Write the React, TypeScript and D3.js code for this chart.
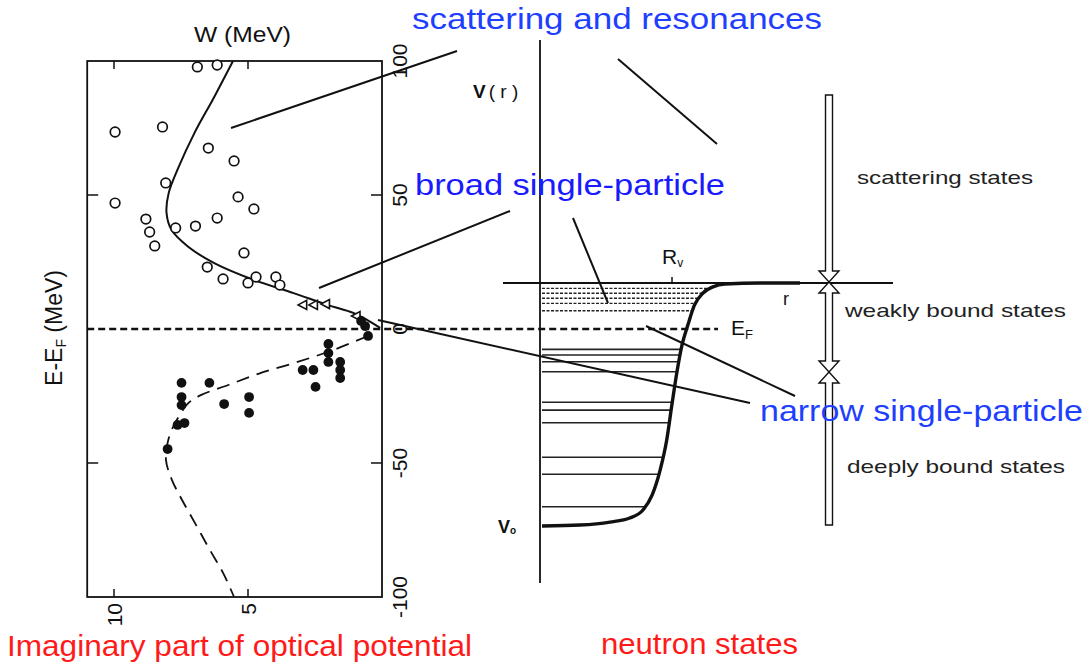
import React from 'react';
import * as d3 from 'd3';

// ---------- Left panel: imaginary part of optical potential ----------
// [W (MeV), E-EF (MeV)]
const openCircles: [number, number][] = [
  [6.89, 97.8], [6.15, 98.5], [9.96, 73.5], [8.19, 75.4], [6.48, 67.5], [5.52, 62.7],
  [8.07, 54.5], [9.96, 47.0], [5.37, 49.3], [4.78, 44.8], [8.81, 41.0], [6.15, 41.4],
  [8.67, 36.2], [7.7, 37.7], [6.96, 38.4], [8.48, 31.0], [5.15, 28.4], [6.52, 23.1],
  [5.93, 18.7], [5.0, 17.2], [4.7, 19.4], [3.96, 19.4], [3.81, 16.4],
];
const openTriangles: [number, number][] = [
  [2.96, 9.0], [2.56, 9.0], [2.11, 9.3], [0.97, 4.85],
];
const filledDots: [number, number][] = [
  [2.0, -5.6], [2.0, -9.0], [2.0, -12.3], [1.56, -12.3], [1.56, -15.3], [1.56, -18.3],
  [2.96, -15.3], [2.56, -15.3], [2.48, -21.6], [0.52, -2.6], [0.78, 3.0], [0.63, 1.1],
  [7.48, -20.1], [7.48, -25.4], [7.48, -28.4], [6.44, -20.1], [5.89, -28.0],
  [4.96, -25.4], [4.96, -31.3], [7.63, -35.8], [7.37, -35.1], [8.0, -44.8],
];
const solidCurve: [number, number][] = [
  [5.56, 100], [6.26, 86.6], [7.0, 73.1], [7.59, 60.4], [7.96, 50.7], [8.04, 43.3],
  [7.85, 36.9], [7.22, 30.6], [6.26, 24.6], [4.78, 18.3], [3.3, 13.4], [2.04, 9.0],
  [1.07, 6.0], [0.56, 3.4], [0.07, 0.4],
];
const dashedCurve: [number, number][] = [
  [0.52, -2.6], [1.81, -7.8], [3.15, -12.3], [4.52, -16.4], [5.74, -20.9], [6.74, -24.6],
  [7.22, -27.6], [7.59, -32.8], [7.85, -37.7], [8.0, -42.5], [8.06, -48.9], [7.84, -56.3],
  [7.46, -63.8], [6.94, -73.1], [6.42, -82.5], [5.93, -91.0], [5.52, -100],
];
const wTicks = [10, 5];
const wTickLabels = ['10', '5'];
const eTicks = [100, 50, 0, -50, -100];
const eTickLabels = ['100', '50', '0', '-50', '-100'];
const eInnerTicks = [50, -50];

// ---------- Right panel: neutron states in the potential well ----------
// [r (units of Rv), V (% of depth)]
const potential: [number, number][] = [
  [0.015, -100], [0.303, -99.6], [0.53, -98.4], [0.68, -96.7], [0.78, -93.4], [0.85, -87.2],
  [0.91, -77], [0.96, -64.6], [1.0, -49.8], [1.04, -35.8], [1.076, -25.5], [1.12, -17.3],
  [1.17, -9.1], [1.235, -4.1], [1.31, -1.6], [1.4, -0.4], [1.67, 0], [1.97, 0],
];
const broadLevels = [-2.2, -4.2, -6.3, -8.4, -11.4];
const boundLevels = [-27.3, -29.6, -32.4, -36.5, -49.1, -52.3, -57.5, -71.7, -78.7, -92.1];

const FONT = 'Liberation Sans, Arial, Helvetica, sans-serif';

function arrowPath(cx: number, y0: number, y1: number, headTop: boolean, headBot: boolean) {
  const hw = 3.5, HW = 10, HL = 11;
  const p = d3.path();
  if (headTop) {
    p.moveTo(cx, y0);
    p.lineTo(cx + HW, y0 + HL);
    p.lineTo(cx + hw, y0 + HL);
  } else {
    p.moveTo(cx - hw, y0);
    p.lineTo(cx + hw, y0);
  }
  if (headBot) {
    p.lineTo(cx + hw, y1 - HL);
    p.lineTo(cx + HW, y1 - HL);
    p.lineTo(cx, y1);
    p.lineTo(cx - HW, y1 - HL);
    p.lineTo(cx - hw, y1 - HL);
  } else {
    p.lineTo(cx + hw, y1);
    p.lineTo(cx - hw, y1);
  }
  if (headTop) {
    p.lineTo(cx - hw, y0 + HL);
    p.lineTo(cx - HW, y0 + HL);
  }
  p.closePath();
  return p.toString();
}

export default function App() {
  const xW = d3.scaleLinear().domain([0, 10]).range([382, 114]);
  const yE = d3.scaleLinear().domain([-100, 100]).range([597, 61]);
  const xR = d3.scaleLinear().domain([0, 1]).range([540, 672]);
  const yV = d3.scaleLinear().domain([0, -100]).range([283, 526]);

  const lineW = d3.line<[number, number]>()
    .x(d => xW(d[0])).y(d => yE(d[1]))
    .curve(d3.curveCatmullRom.alpha(0.5));
  const lineV = d3.line<[number, number]>()
    .x(d => xR(d[0])).y(d => yV(d[1]))
    .curve(d3.curveMonotoneX);
  const mono = potential.slice(0, 17);
  const rAtV = d3.scaleLinear().domain(mono.map(p => p[1])).range(mono.map(p => p[0]));

  const boxL = xW(11), boxR = xW(0), boxT = yE(100), boxB = yE(-100);
  const yF = yE(0);

  const ink = '#111';

  return (
    <svg width={1091} height={663} style={{ position: 'absolute', left: 0, top: 0, background: '#fff' }}
      fontFamily={FONT}>
      <rect x={0} y={0} width={1091} height={663} fill="#fff" />

      {/* Left panel frame */}
      <rect x={boxL} y={boxT} width={boxR - boxL} height={boxB - boxT} fill="none" stroke={ink} strokeWidth={1.8} />
      {wTicks.map(t => (
        <g key={'wt' + t}>
          <line x1={xW(t)} x2={xW(t)} y1={boxT} y2={boxT + 8} stroke={ink} strokeWidth={1.5} />
          <line x1={xW(t)} x2={xW(t)} y1={boxB} y2={boxB - 8} stroke={ink} strokeWidth={1.5} />
        </g>
      ))}
      {eInnerTicks.map(t => (
        <g key={'et' + t}>
          <line x1={boxL} x2={boxL + 11} y1={yE(t)} y2={yE(t)} stroke={ink} strokeWidth={1.5} />
          <line x1={boxR} x2={boxR - 11} y1={yE(t)} y2={yE(t)} stroke={ink} strokeWidth={1.5} />
        </g>
      ))}
      {eTicks.map((t, i) => (
        <text key={'el' + t} transform={`translate(407,${yE(t)}) rotate(-90)`} textAnchor="middle"
          fontSize={21} fill={ink}>{eTickLabels[i]}</text>
      ))}
      {wTicks.map((t, i) => (
        <text key={'wl' + t} transform={`translate(${xW(t) + 8},603) rotate(-90)`} textAnchor="end"
          fontSize={21} fill={ink}>{wTickLabels[i]}</text>
      ))}
      <text x={194} y={42} fontSize={22} fill={ink} textLength={97} lengthAdjust="spacingAndGlyphs">W (MeV)</text>
      <text transform="translate(62,328) rotate(-90)" textAnchor="middle" fontSize={23} fill={ink}>
        E-E<tspan fontSize={14} dy={4}>F</tspan><tspan dy={-4}> (MeV)</tspan>
      </text>

      {/* Curves */}
      <path d={lineW(solidCurve) || ''} fill="none" stroke={ink} strokeWidth={2} />
      <path d={lineW(dashedCurve) || ''} fill="none" stroke={ink} strokeWidth={1.8} strokeDasharray="13 8" />

      {/* Data markers */}
      {openCircles.map((d, i) => (
        <circle key={'oc' + i} cx={xW(d[0])} cy={yE(d[1])} r={4.8} fill="#fff" stroke={ink} strokeWidth={1.7} />
      ))}
      {openTriangles.map((d, i) => {
        const x = xW(d[0]), y = yE(d[1]);
        return <path key={'tr' + i} d={`M${x - 4.5},${y} L${x + 4},${y - 4.5} L${x + 4},${y + 4.5} Z`}
          fill="#fff" stroke={ink} strokeWidth={1.6} />;
      })}
      {filledDots.map((d, i) => (
        <circle key={'fd' + i} cx={xW(d[0])} cy={yE(d[1])} r={4.9} fill={ink} />
      ))}

      {/* Fermi level dashed line */}
      <line x1={boxL} x2={718} y1={yF} y2={yF} stroke={ink} strokeWidth={2.6} strokeDasharray="7 4" />

      {/* Right panel */}
      <line x1={540} x2={540} y1={40} y2={583} stroke={ink} strokeWidth={1.8} />
      <line x1={503} x2={893} y1={yV(0)} y2={yV(0)} stroke={ink} strokeWidth={1.8} />
      <line x1={xR(1)} x2={xR(1)} y1={yV(0) - 6} y2={yV(0)} stroke={ink} strokeWidth={1.5} />
      {broadLevels.map((v, i) => (
        <line key={'bl' + i} x1={542} x2={xR(rAtV(v))} y1={yV(v)} y2={yV(v)} stroke="#222"
          strokeWidth={1.4} strokeDasharray="3 1.5" />
      ))}
      {boundLevels.map((v, i) => (
        <line key={'sl' + i} x1={542} x2={xR(rAtV(v))} y1={yV(v)} y2={yV(v)} stroke="#222" strokeWidth={1.6} />
      ))}
      <path d={lineV(potential) || ''} fill="none" stroke={ink} strokeWidth={3.4} />

      <text x={473} y={98} fontSize={19} fill={ink}>
        <tspan fontWeight="bold">V</tspan><tspan dx={3}>( r )</tspan>
      </text>
      <text x={662} y={264} fontSize={21} fill={ink}>R<tspan fontSize={12} dy={3}>v</tspan></text>
      <text x={783} y={305} fontSize={18} fill={ink}>r</text>
      <text x={731} y={335} fontSize={21} fill={ink}>E<tspan fontSize={13} dy={4}>F</tspan></text>
      <text x={498} y={533} fontSize={18} fill={ink} fontWeight="bold">V<tspan fontSize={10} dy={1}>o</tspan></text>

      {/* Hollow arrows */}
      <path d={arrowPath(829, 95, 282, false, true)} fill="#fff" stroke={ink} strokeWidth={1.4} />
      <path d={arrowPath(829, 282, 372, true, true)} fill="#fff" stroke={ink} strokeWidth={1.4} />
      <path d={arrowPath(829, 372, 525, true, false)} fill="#fff" stroke={ink} strokeWidth={1.4} />

      <text x={857} y={184} fontSize={19} fill="#222" textLength={176} lengthAdjust="spacingAndGlyphs">scattering states</text>
      <text x={845} y={317} fontSize={19} fill="#222" textLength={221} lengthAdjust="spacingAndGlyphs">weakly bound states</text>
      <text x={847} y={473} fontSize={19} fill="#222" textLength={218} lengthAdjust="spacingAndGlyphs">deeply bound states</text>

      {/* Annotation lines */}
      <g stroke={ink} strokeWidth={2}>
        <line x1={231} y1={128} x2={457} y2={51} />
        <line x1={618} y1={59} x2={717} y2={144} />
        <line x1={319} y1={288} x2={510} y2={211} />
        <line x1={573} y1={218} x2={608} y2={303} />
        <line x1={378} y1={320} x2={750} y2={403} />
        <line x1={646} y1={326} x2={795} y2={396} />
      </g>

      {/* Blue annotations */}
      <text x={412} y={29} fontSize={29} fill="#1f3fff" textLength={410} lengthAdjust="spacingAndGlyphs">scattering and resonances</text>
      <text x={415} y={195} fontSize={29} fill="#1a1aff" textLength={310} lengthAdjust="spacingAndGlyphs">broad single-particle</text>
      <text x={760} y={421} fontSize={29} fill="#1f3fff" textLength={323} lengthAdjust="spacingAndGlyphs">narrow single-particle</text>

      {/* Red captions */}
      <text x={7} y={656} fontSize={29} fill="#ff1a1a" textLength={465} lengthAdjust="spacingAndGlyphs">Imaginary part of optical potential</text>
      <text x={601} y={654} fontSize={29} fill="#ff1a1a" textLength={197} lengthAdjust="spacingAndGlyphs">neutron states</text>
    </svg>
  );
}
